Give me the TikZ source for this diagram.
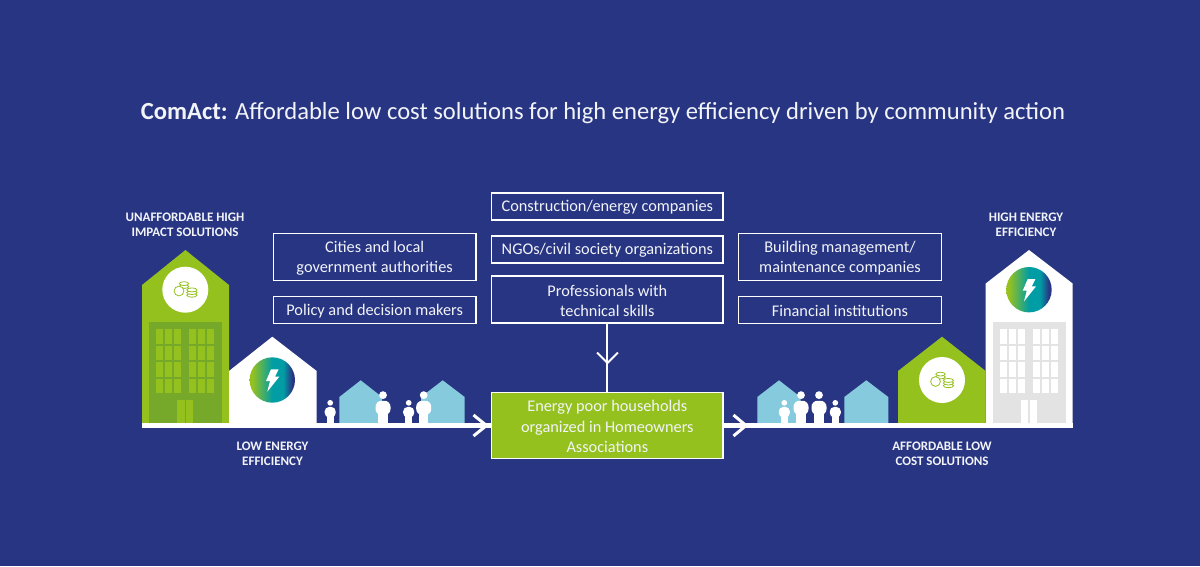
\documentclass[tikz,border=0pt]{standalone}
\usepackage{fontspec}
\setmainfont{Carlito}
\definecolor{navy}{HTML}{283583}
\definecolor{lime}{HTML}{95C11F}
\definecolor{darklime}{HTML}{76A82A}
\definecolor{sky}{HTML}{86CBDD}
\definecolor{pale}{HTML}{E3E3E3}
\definecolor{inktext}{HTML}{F2F4F8}
\definecolor{gradteal}{HTML}{009DA5}
\pgfdeclarehorizontalshading{energy}{100bp}{
 color(0bp)=(lime); color(28bp)=(lime); color(50bp)=(gradteal); color(62bp)=(gradteal); color(72bp)=(navy); color(100bp)=(navy)}
\tikzset{
 infobox/.style={draw=white,line width=1.5pt,fill=navy,inner sep=0pt,outer sep=0pt,anchor=north west},
 boxtext/.style={text=inktext,font=\fontsize{16.3}{20.3}\selectfont,align=center,inner sep=0pt,outer sep=0pt,yshift=-1.1pt},
 caption/.style={text=inktext,font=\bfseries\fontsize{13}{14.6}\selectfont,align=center,inner sep=0pt},
 link/.style={draw=white,line width=2pt},
 rail/.style={draw=white,line width=4.4pt},
 railhead/.style={draw=white,line width=3pt,line cap=butt,miter limit=10},
 thinhead/.style={draw=white,line width=2pt,miter limit=10},
}
\newcommand{\personAt}[3]{% x, bottom y, scale: head, torso, legs
  \fill[white] (#1,#2-#3*3.85) circle (#3*.52);
  \fill[white,rounded corners=#3*.8] (#1-#3,#2-#3*1.2) -- (#1-#3,#2-#3*3.1) -- (#1+#3,#2-#3*3.1) -- (#1+#3,#2-#3*1.2) -- cycle;
  \fill[white] (#1-#3*.62,#2-#3*1.6) rectangle (#1+#3*.62,#2);
}
\newcommand{\houseAt}[6]{% colour, left, right, apex x, apex y, eave y
  \fill[#1] (#2,425) -- (#2,#6) -- (#4,#5) -- (#3,#6) -- (#3,425) -- cycle;
}
\newcommand{\windowsAt}[3]{% colour, left, top: two groups of three by four panes
  \foreach \gx in {0,32.9} \foreach \cx in {0,9.05,18.1} \foreach \ry in {0,16.4,32.8,49.2}
    \fill[#1] (#2+\gx+\cx,#3+\ry) rectangle ++(7.3,14.7);
}
\newcommand{\coinsAt}[2]{% centre x, y
  \begin{scope}[shift={(#1,#2)},draw=lime,line width=.8pt]
   \foreach \y in {-3,-5.9} \draw[fill=white] (-1.5,\y) ellipse (4.7 and 1.9);
   \foreach \y in {5.7,3,0.4} \draw[fill=white] (6.4,\y) ellipse (5.1 and 2);
   \draw[fill=white] (-6.5,1.5) circle (4.9);
  \end{scope}
}
\newcommand{\boltAt}[2]{% centre x, y
  \fill[white,shift={(#1,#2)}] (-1.3,-10.7) -- (6.4,-10.7) -- (2.7,-3.3) -- (7,-3.3) -- (-5,11.7) -- (-2.3,1) -- (-6.3,1) -- cycle;
}
\begin{document}
\begin{tikzpicture}[x=1pt,y=-1pt]
\useasboundingbox (0,0) rectangle (1200,566);
\fill[navy] (0,0) rectangle (1200,566);

\node[text=inktext,font=\fontsize{24.6}{28}\selectfont,inner sep=0pt] (title) at (603,113) {\textbf{ComAct:} Affordable low cost solutions for high energy efficiency driven by community action};

% left buildings
\houseAt{lime}{142}{229}{185.4}{250}{285}
\fill[darklime] (149.3,322.3) rectangle (221.7,423.5);
\windowsAt{lime}{156}{329.3}
\fill[lime] (177,400) rectangle (184.5,423.5);
\fill[lime] (186,400) rectangle (193.4,423.5);
\fill[white] (185.3,289.7) circle (23);
\coinsAt{185.5}{289.5}
\houseAt{white}{229}{316.7}{272.3}{336.7}{371}
\shade[shading=energy] (272.3,380) circle (22.7);
\boltAt{272.3}{380}
\houseAt{sky}{339.3}{382}{360.7}{380.3}{397}
\houseAt{sky}{421}{464.7}{442.7}{380.3}{397}
\personAt{330.2}{424}{5.5}
\personAt{383}{424}{7.5}
\personAt{408.7}{424}{5.5}
\personAt{423.7}{424}{7.5}

% right buildings
\houseAt{white}{985.7}{1072.7}{1029}{250}{283.5}
\fill[pale] (993,322.3) rectangle (1065.7,423.5);
\windowsAt{white}{1000}{329.3}
\fill[white] (1021,400) rectangle (1028.3,423.5);
\fill[white] (1029.8,400) rectangle (1037.3,423.5);
\shade[shading=energy] (1029,289.7) circle (22.7);
\boltAt{1029}{289.7}
\houseAt{lime}{898}{985.7}{942}{336.7}{371}
\fill[white] (942,380) circle (23);
\coinsAt{942}{380}
\houseAt{sky}{757.3}{800.5}{779}{380.3}{397}
\houseAt{sky}{844.3}{888.3}{866.3}{380.3}{397}
\personAt{784.3}{424}{5.5}
\personAt{801}{424}{7.5}
\personAt{819}{424}{7.5}
\personAt{835.3}{424}{5.5}

% boxes
\node[infobox,minimum width=231.7pt,minimum height=27pt,label={[boxtext]center:Construction/energy companies}] (construction) at (491.5,193) {};
\node[infobox,minimum width=231.7pt,minimum height=27pt,label={[boxtext]center:NGOs/civil society organizations}] (ngo) at (491.5,236) {};
\node[infobox,minimum width=231.7pt,minimum height=47pt,label={[boxtext]center:{Professionals with\\technical skills}}] (professionals) at (491.5,276) {};
\node[infobox,minimum width=202.7pt,minimum height=47pt,label={[boxtext]center:{Cities and local\\government authorities}}] (cities) at (273.3,233.7) {};
\node[infobox,minimum width=202.7pt,minimum height=27pt,label={[boxtext]center:Policy and decision makers}] (policy) at (273.3,296.3) {};
\node[infobox,minimum width=203.4pt,minimum height=47pt,label={[boxtext]center:{Building management/\\maintenance companies}}] (building) at (738.3,233.7) {};
\node[infobox,minimum width=203.4pt,minimum height=27pt,label={[boxtext]center:Financial institutions}] (financial) at (738.3,296.3) {};
\node[infobox,fill=lime,minimum width=231.7pt,minimum height=65.6pt,label={[boxtext]center:{Energy poor households\\organized in Homeowners\\Associations}}] (households) at (491.5,392.7) {};

% captions
\node[caption] (capA) at (185,224.5) {UNAFFORDABLE HIGH\\IMPACT SOLUTIONS};
\node[caption] (capB) at (272.5,453.5) {LOW ENERGY\\EFFICIENCY};
\node[caption] (capC) at (1026,224.5) {HIGH ENERGY\\EFFICIENCY};
\node[caption] (capD) at (942,454) {AFFORDABLE LOW\\COST SOLUTIONS};

% connectors
\coordinate (railL) at (142,425.5);
\coordinate (railR) at (1072.7,425.5);
\draw[rail] (railL) -- (households.west |- railL);
\draw[rail] (households.east |- railR) -- (railR);
\draw[railhead] (473.5,415) -- (486.5,425.5) -- (473.5,436);
\draw[railhead] (733.5,415) -- (746,425.5) -- (733.5,436);
\draw[link] (professionals.south) -- (households.north);
\draw[thinhead] (597,352.5) -- (607.5,363) -- (618,352.5);
\end{tikzpicture}
\end{document}
